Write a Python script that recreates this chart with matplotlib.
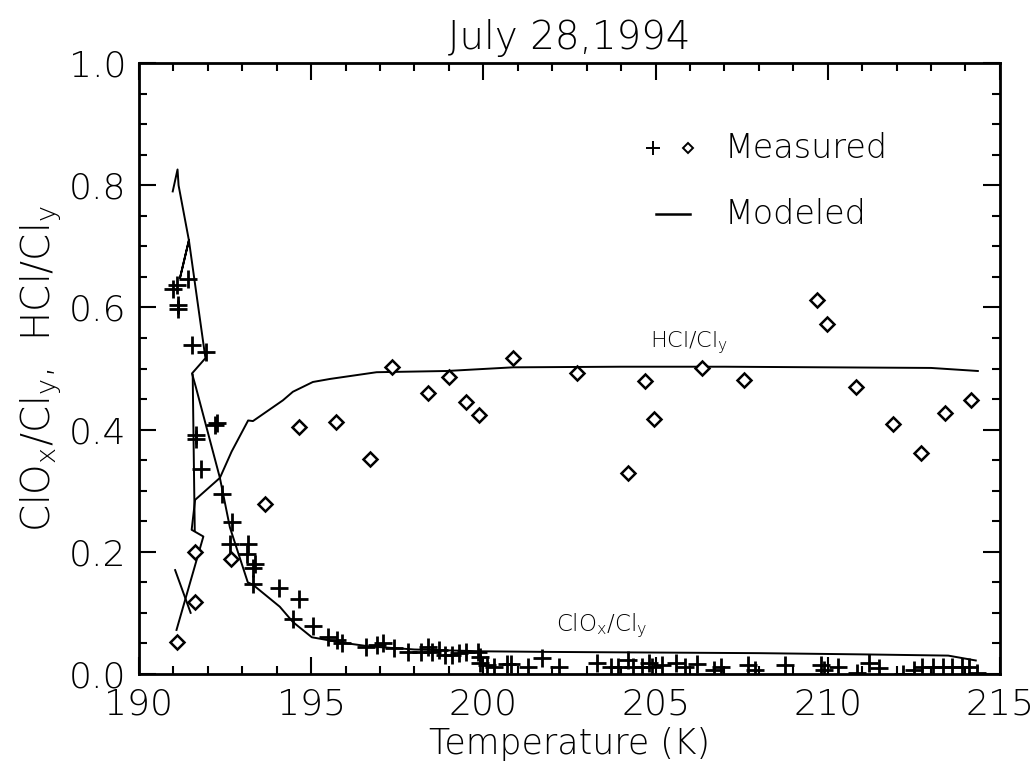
import matplotlib
matplotlib.use("Agg")
import matplotlib.pyplot as plt
from matplotlib.ticker import MultipleLocator

plt.rcParams['font.family'] = ['DejaVu Sans']
plt.rcParams['font.weight'] = 'light'
plt.rcParams['axes.titleweight'] = 'light'
plt.rcParams['axes.labelweight'] = 'light'
plt.rcParams['mathtext.default'] = 'regular'

# Measured ClOx/Cly (crosses)
clox_T = [190.99, 191.09, 191.43, 191.14, 191.14, 191.53, 191.95, 191.67, 192.26, 192.21,
          191.67, 191.80, 192.40, 192.69, 192.64, 193.17, 193.14, 193.37, 193.32, 193.32,
          194.07, 194.65, 194.48, 195.04, 195.50, 195.74, 195.91, 196.59, 196.90,
          197.1, 197.4, 197.8, 198.2, 198.4, 198.5, 198.7, 198.9, 199.1, 199.3, 199.5,
          199.85, 199.9, 199.9, 200.1, 200.3, 200.7, 200.8, 201.3, 201.7, 202.2, 203.3,
          203.7, 203.9, 204.2, 204.35, 204.6, 204.8, 204.9, 205.2, 205.6, 205.85, 206.2,
          206.7, 206.9, 207.7, 207.9, 208.75, 209.8, 209.9, 210.3, 210.85, 211.2, 211.5,
          212.2, 212.5, 212.75, 213.05, 213.35, 213.6, 213.9, 214.1, 214.35]
clox_v = [0.631, 0.636, 0.646, 0.604, 0.598, 0.538, 0.527, 0.391, 0.411, 0.407,
          0.384, 0.336, 0.294, 0.249, 0.213, 0.213, 0.196, 0.180, 0.173, 0.148,
          0.141, 0.123, 0.090, 0.079, 0.060, 0.055, 0.050, 0.044, 0.047,
          0.050, 0.042, 0.036, 0.036, 0.044, 0.036, 0.039, 0.031, 0.031, 0.034, 0.036,
          0.036, 0.028, 0.018, 0.015, 0.011, 0.016, 0.016, 0.011, 0.026, 0.011, 0.018,
          0.011, 0.011, 0.023, 0.011, 0.011, 0.018, 0.011, 0.015, 0.018, 0.011, 0.016,
          0.007, 0.011, 0.015, 0.007, 0.015, 0.015, 0.007, 0.011, 0.002, 0.018, 0.010,
          0.000, 0.007, 0.011, 0.011, 0.011, 0.011, 0.011, 0.011, 0.002]

# Measured HCl/Cly (diamonds)
hcl_T = [191.10, 191.63, 191.63, 192.67, 193.66, 194.65, 195.72, 196.71, 197.35, 198.39,
         199.00, 199.50, 199.87, 200.86, 202.72, 204.20, 204.69, 204.95, 206.35, 207.57,
         209.69, 209.98, 210.82, 211.89, 212.71, 213.40, 214.16]
hcl_v = [0.052, 0.118, 0.200, 0.188, 0.278, 0.404, 0.412, 0.352, 0.502, 0.460,
         0.486, 0.445, 0.424, 0.517, 0.493, 0.329, 0.480, 0.417, 0.501, 0.481,
         0.612, 0.573, 0.470, 0.410, 0.362, 0.427, 0.448]

# Modeled ClOx/Cly
mclox_T = [190.98, 191.12, 191.15, 191.45, 191.19, 191.45, 191.93, 191.54, 191.65, 192.35,
           192.64, 193.16, 193.31, 194.09, 194.47, 195.02, 195.92, 196.70, 198.0, 200.0,
           202.0, 205.0, 208.0, 211.0, 213.5, 214.3]
mclox_v = [0.790, 0.826, 0.800, 0.710, 0.648, 0.710, 0.517, 0.492, 0.470, 0.321,
           0.240, 0.150, 0.146, 0.110, 0.085, 0.060, 0.051, 0.045, 0.040, 0.037,
           0.036, 0.035, 0.034, 0.032, 0.030, 0.022]

# Modeled HCl/Cly
mhcl_T = [191.09, 191.87, 191.53, 191.63, 192.35, 192.69, 193.17, 193.31, 194.18, 194.47,
          195.05, 195.55, 196.90, 198.94, 200.86, 204.0, 207.0, 210.0, 213.0, 214.36]
mhcl_v = [0.072, 0.225, 0.236, 0.285, 0.321, 0.364, 0.415, 0.414, 0.448, 0.462,
          0.478, 0.483, 0.494, 0.496, 0.502, 0.503, 0.503, 0.502, 0.501, 0.496]

# short extra modeled segments
seg1_T = [191.05, 191.50]
seg1_v = [0.170, 0.100]
seg2_T = [191.56, 191.62]
seg2_v = [0.490, 0.235]

fig = plt.figure(figsize=(10.34, 7.80), dpi=100)
ax = fig.add_axes([0.1344, 0.136, 0.8326, 0.783])

lw = 1.4
ax.plot(mclox_T, mclox_v, color='black', lw=lw)
ax.plot(mhcl_T, mhcl_v, color='black', lw=lw)
ax.plot(seg1_T, seg1_v, color='black', lw=lw)
ax.plot(seg2_T, seg2_v, color='black', lw=lw)
ax.plot(clox_T, clox_v, linestyle='none', marker='+', markersize=12.5,
        markeredgewidth=2.0, color='black')
ax.plot(hcl_T, hcl_v, linestyle='none', marker='D', markersize=7.5,
        markeredgewidth=1.8, markerfacecolor='white', markeredgecolor='black')

ax.set_xlim(190, 215)
ax.set_ylim(0, 1.0)
ax.xaxis.set_major_locator(MultipleLocator(5))
ax.xaxis.set_minor_locator(MultipleLocator(1))
ax.yaxis.set_major_locator(MultipleLocator(0.2))
ax.yaxis.set_minor_locator(MultipleLocator(0.05))
ax.tick_params(which='both', direction='in', top=True, right=True, width=1.5,
               labelsize=26)
ax.tick_params(which='major', length=12)
ax.tick_params(which='minor', length=6)
ax.tick_params(axis='x', pad=10)
ax.tick_params(axis='y', pad=9)
ax.set_yticks([0.0, 0.2, 0.4, 0.6, 0.8, 1.0])
ax.set_yticklabels(['0.0', '0.2', '0.4', '0.6', '0.8', '1.0'])
for s in ax.spines.values():
    s.set_linewidth(2)

ax.set_title('July 28,1994', fontsize=28, pad=10, fontweight='light')
ax.set_xlabel('Temperature (K)', fontsize=25, labelpad=4, fontweight='light')
ax.set_ylabel(r'ClO$_x$/Cl$_y$,  HCl/Cl$_y$', fontsize=28, labelpad=4, fontweight='light')

ax.text(202.1, 0.078, r'ClO$_x$/Cl$_y$', fontsize=16.5, ha='left', va='center')
ax.text(204.84, 0.543, r'HCl/Cl$_y$', fontsize=16, ha='left', va='center')

# legend drawn as text and markers in axes coordinates
ax.plot([0.597], [0.861], transform=ax.transAxes, marker='+', markersize=10,
        markeredgewidth=1.4, color='black', clip_on=False)
ax.plot([0.638], [0.861], transform=ax.transAxes, marker='D', markersize=5.5,
        markeredgewidth=1.4, markerfacecolor='white', markeredgecolor='black', clip_on=False)
ax.text(0.680, 0.861, 'Measured', transform=ax.transAxes, fontsize=24, va='center')
ax.plot([0.600, 0.640], [0.753, 0.753], transform=ax.transAxes, color='black', lw=1.8)
ax.text(0.680, 0.753, 'Modeled', transform=ax.transAxes, fontsize=24, va='center')

fig.savefig('out.png', dpi=100)
